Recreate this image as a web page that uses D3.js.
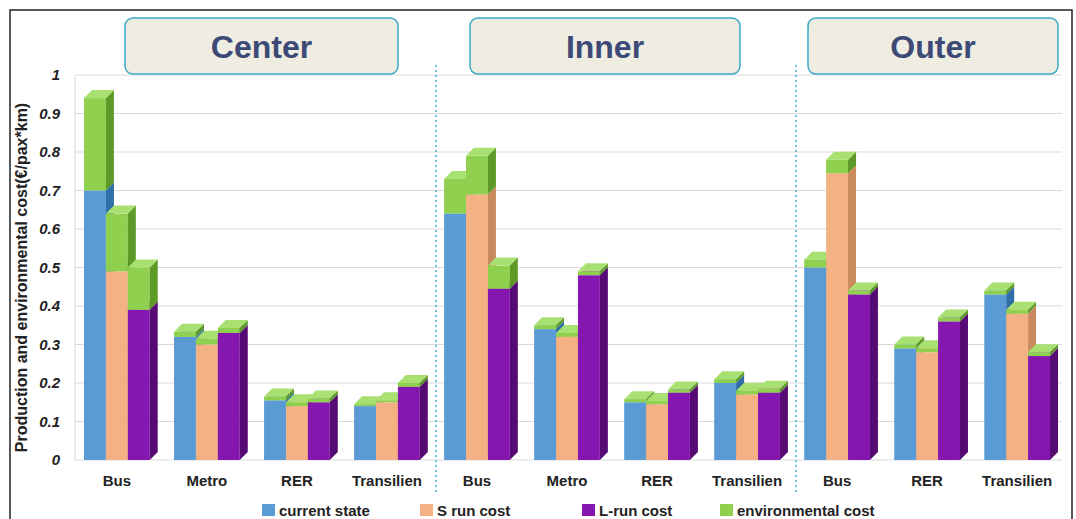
<!DOCTYPE html>
<html><head><meta charset="utf-8">
<script src="https://cdn.jsdelivr.net/npm/d3@7"></script>
<style>body{margin:0;background:#fff}text{font-family:"Liberation Sans",Arial,sans-serif}</style>
</head><body><svg id="c" width="1076" height="519"></svg>
<script>
const categories = ["Bus","Metro","RER","Transilien","Bus","Metro","RER","Transilien","Bus","RER","Transilien"];
const regions = [{name:"Center", from:0, to:3}, {name:"Inner", from:4, to:7}, {name:"Outer", from:8, to:10}];
const scenarios = ["current state","S  run cost","L-run cost"];
// base cost per scenario, per category
const baseCost = [
  [0.70,0.32,0.155,0.14, 0.64,0.34,0.15,0.20, 0.50,0.29,0.43],
  [0.49,0.30,0.14,0.15, 0.69,0.32,0.145,0.17, 0.745,0.28,0.38],
  [0.39,0.33,0.15,0.19, 0.445,0.48,0.175,0.175, 0.43,0.36,0.27]
];
// environmental cost added on top
const envCost = [
  [0.24,0.013,0.01,0.005, 0.09,0.01,0.008,0.01, 0.02,0.01,0.01],
  [0.15,0.015,0.01,0.005, 0.10,0.01,0.008,0.01, 0.035,0.01,0.01],
  [0.11,0.013,0.01,0.01, 0.06,0.01,0.008,0.01, 0.01,0.01,0.01]
];
const yTicks = [0,0.1,0.2,0.3,0.4,0.5,0.6,0.7,0.8,0.9,1];
const legendLabels = ["current state","S  run cost","L-run cost","environmental cost"];

const fills = [["#5b9bd5","#2f6ea6","#7fb3e0"],["#f4b183","#c98a5e","#f8c9a6"],["#8616b0","#560a74","#a43bcc"]];
const envFill = ["#8fd14f","#5e9a28","#a9e072"];

const svg = d3.select("#c");
const pLeft = 75, pRight = 1062, pTop = 75, pBottom = 460;
const x = d3.scaleBand().domain(d3.range(categories.length)).range([84, 1050]).paddingInner(0.27).paddingOuter(0);
const y = d3.scaleLinear().domain([0,1]).range([pBottom, pTop]);
const dx = 8, dy = 8;

svg.append("rect").attr("x",10).attr("y",10).attr("width",1062).attr("height",520).attr("fill","none").attr("stroke","#222").attr("stroke-width",1.5);

svg.append("g").selectAll("line").data(yTicks).join("line")
  .attr("x1",pLeft).attr("x2",pRight).attr("y1",d=>y(d)).attr("y2",d=>y(d))
  .attr("stroke","#d9d9d9");
svg.append("line").attr("x1",pLeft).attr("x2",pLeft).attr("y1",pTop).attr("y2",pBottom).attr("stroke","#d9d9d9");
svg.append("g").selectAll("text").data(yTicks).join("text")
  .attr("x",60).attr("y",d=>y(d)+5).attr("text-anchor","end")
  .attr("font-size",15).attr("font-weight","bold").attr("font-style","italic").attr("fill","#222")
  .text(d=>d);
svg.append("text").attr("transform",`translate(27,${(pTop+pBottom)/2+10}) rotate(-90)`)
  .attr("text-anchor","middle").attr("font-size",16).attr("font-weight","bold").attr("fill","#222")
  .text("Production and environmental cost(€/pax*km)");

const bw = x.bandwidth()/3;
function box(g, x0, y0, y1, c) {
  // front, side, top faces of a 3D block
  g.append("rect").attr("x",x0).attr("y",y1).attr("width",bw).attr("height",y0-y1).attr("fill",c[0]);
  g.append("path").attr("d",`M${x0+bw},${y0}L${x0+bw+dx},${y0-dy}L${x0+bw+dx},${y1-dy}L${x0+bw},${y1}Z`).attr("fill",c[1]);
  g.append("path").attr("d",`M${x0},${y1}L${x0+dx},${y1-dy}L${x0+bw+dx},${y1-dy}L${x0+bw},${y1}Z`).attr("fill",c[2]);
}
const bars = svg.append("g");
categories.forEach((cat,i)=>{
  scenarios.forEach((s,k)=>{
    const x0 = x(i)+k*bw;
    const b = baseCost[k][i], e = envCost[k][i];
    box(bars, x0, y(0), y(b), fills[k]);
    box(bars, x0, y(b), y(b+e), envFill);
  });
});
svg.append("g").selectAll("text").data(categories).join("text")
  .attr("x",(d,i)=>x(i)+x.bandwidth()/2).attr("y",486).attr("text-anchor","middle")
  .attr("font-size",15).attr("font-weight","bold").attr("fill","#222").text(d=>d);

[3.5,7.5].forEach(p=>{
  const xx = (x(Math.floor(p))+x.bandwidth()+dx + x(Math.ceil(p)))/2;
  svg.append("line").attr("x1",xx).attr("x2",xx).attr("y1",65).attr("y2",492)
    .attr("stroke","#3bb0d0").attr("stroke-width",1.5).attr("stroke-dasharray","2,3");
});
const hb = [[125,398],[470,740],[808,1058]];
regions.forEach((r,i)=>{
  svg.append("rect").attr("x",hb[i][0]).attr("y",18).attr("width",hb[i][1]-hb[i][0]).attr("height",56).attr("rx",8)
    .attr("fill","#efede2").attr("stroke","#3aa8c8").attr("stroke-width",1.5);
  svg.append("text").attr("x",(hb[i][0]+hb[i][1])/2).attr("y",58).attr("text-anchor","middle")
    .attr("font-size",32).attr("font-weight","bold").attr("fill","#3d4a78").text(r.name);
});
const lx = [262,420,582,720];
const lc = [fills[0][0],fills[1][0],fills[2][0],envFill[0]];
legendLabels.forEach((l,i)=>{
  svg.append("rect").attr("x",lx[i]).attr("y",504).attr("width",13).attr("height",12).attr("fill",lc[i]);
  svg.append("text").attr("x",lx[i]+17).attr("y",516).attr("font-size",15).attr("font-weight","bold").attr("fill","#222").text(l);
});
</script></body></html>
